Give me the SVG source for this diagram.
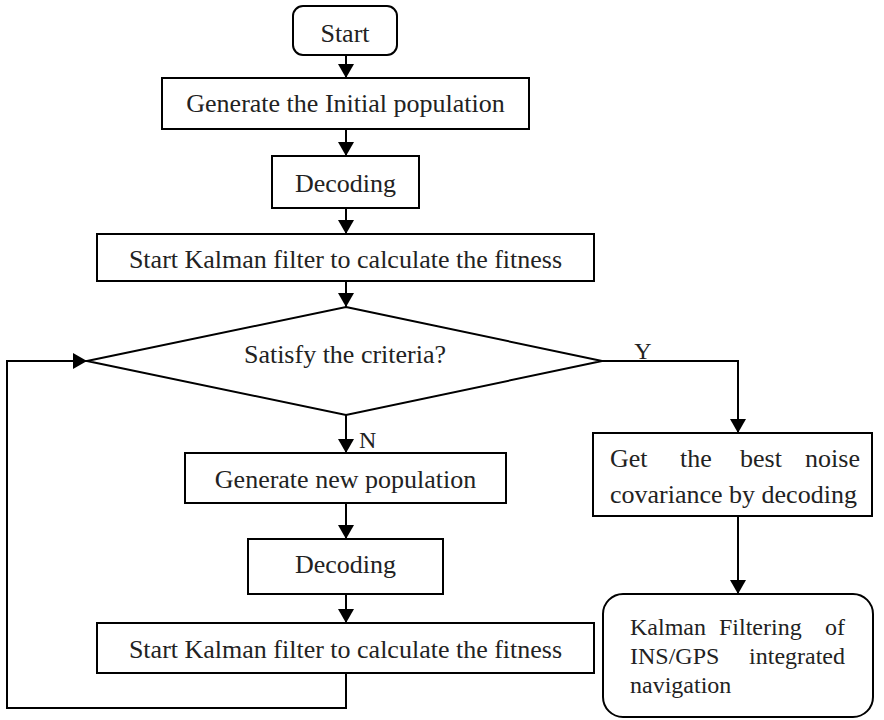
<svg xmlns="http://www.w3.org/2000/svg" width="884" height="720" viewBox="0 0 884 720">
  <defs>
    <marker id="arrow" viewBox="0 0 14 16" refX="14" refY="8" markerWidth="14" markerHeight="16" markerUnits="userSpaceOnUse" orient="auto">
      <path d="M0,0 L14,8 L0,16 Z" fill="#000"/>
    </marker>
    <style>
      .box { fill: #fff; stroke: #000; stroke-width: 2; }
      .link { fill: none; stroke: #000; stroke-width: 2; }
      .arr { marker-end: url(#arrow); }
      text { font-family: "Liberation Serif", "Times New Roman", serif; font-size: 26px; fill: #222; }
      .lbl { font-size: 24px; }
      .sm { font-size: 24px; }
      .c { text-anchor: middle; }
      .e { text-anchor: end; }
    </style>
  </defs>
  <rect width="884" height="720" fill="#fff"/>

  <g id="connectors">
    <path class="link arr" d="M346,55 V78"/>
    <path class="link arr" d="M346,129 V156"/>
    <path class="link arr" d="M346,208 V234"/>
    <path class="link arr" d="M346,281 V307"/>
    <path class="link arr" d="M346,415 V453"/>
    <path class="link arr" d="M346,503 V539"/>
    <path class="link arr" d="M346,594 V623"/>
    <path class="link arr" d="M346,673 V708 H7 V361 H87"/>
    <path class="link arr" d="M602,361 H738 V433"/>
    <path class="link arr" d="M738,516 V594"/>
    <text x="643" y="359" class="c lbl">Y</text>
    <text x="359" y="448" class="lbl">N</text>
  </g>

  <g id="start">
    <rect class="box" x="293" y="6" width="104" height="49" rx="10"/>
    <text x="345" y="42" class="c">Start</text>
  </g>
  <g id="init-population">
    <rect class="box" x="162" y="78" width="367" height="51"/>
    <text x="345.5" y="112" class="c">Generate the Initial population</text>
  </g>
  <g id="decoding-1">
    <rect class="box" x="272" y="156" width="147" height="52"/>
    <text x="345.5" y="192" class="c">Decoding</text>
  </g>
  <g id="kalman-fitness-1">
    <rect class="box" x="97" y="234" width="497" height="47"/>
    <text x="345.5" y="268" class="c">Start Kalman filter to calculate the fitness</text>
  </g>
  <g id="criteria">
    <polygon class="box" points="346,307 602,361 346,415 87,361"/>
    <text x="345" y="363" class="c">Satisfy the criteria?</text>
  </g>
  <g id="new-population">
    <rect class="box" x="185" y="453" width="321" height="50"/>
    <text x="345.5" y="488" class="c">Generate new population</text>
  </g>
  <g id="decoding-2">
    <rect class="box" x="248" y="539" width="195" height="55"/>
    <text x="345.5" y="573" class="c">Decoding</text>
  </g>
  <g id="kalman-fitness-2">
    <rect class="box" x="97" y="623" width="497" height="50"/>
    <text x="345.5" y="658" class="c">Start Kalman filter to calculate the fitness</text>
  </g>
  <g id="best-covariance">
    <rect class="box" x="593" y="433" width="279" height="83"/>
    <text x="610" y="467">Get</text>
    <text x="680" y="467">the</text>
    <text x="740" y="467">best</text>
    <text x="860" y="467" class="e">noise</text>
    <text x="610" y="503">covariance by decoding</text>
  </g>
  <g id="kalman-ins-gps">
    <rect class="box" x="603" y="594" width="270" height="123" rx="20"/>
    <text x="630" y="635" class="sm">Kalman</text>
    <text x="719" y="635" class="sm">Filtering</text>
    <text x="845" y="635" class="sm e">of</text>
    <text x="630" y="664" class="sm">INS/GPS</text>
    <text x="845" y="664" class="sm e">integrated</text>
    <text x="630" y="693" class="sm">navigation</text>
  </g>
</svg>
